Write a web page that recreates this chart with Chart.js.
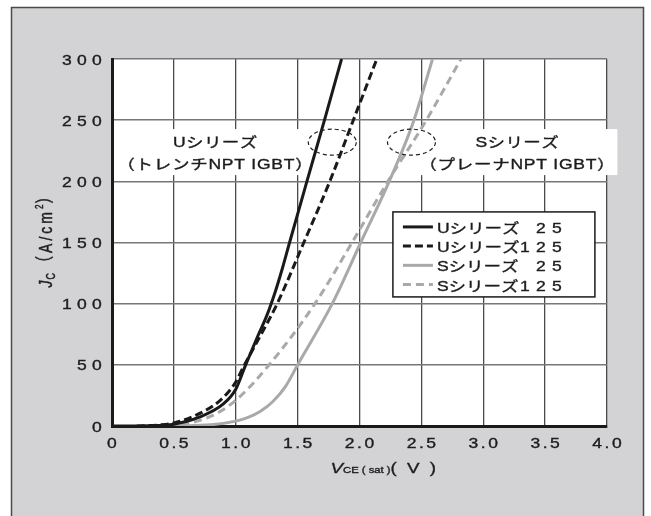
<!DOCTYPE html>
<html>
<head>
<meta charset="utf-8">
<script src="https://cdn.jsdelivr.net/npm/chart.js@4.4.1/dist/chart.umd.min.js"></script>
<style>
  html, body { margin: 0; padding: 0; background: #fff; }
  canvas { display: block; }
</style>
</head>
<body>
<canvas id="chart" width="651" height="516"></canvas>
<script>
// VCE(sat) [V] / Jc [A/cm2]
var vU25  = [0, 0.3, 0.5, 0.7, 0.9, 1.0, 1.08, 1.18, 1.25, 1.32, 1.38, 1.435, 1.575, 1.717, 1.855];
var jU25  = [0, 0.3, 1.5, 7, 18, 30, 50, 74, 90, 110, 130, 150, 200, 250, 300];
var vU125 = [0.2, 0.4, 0.5, 0.66, 0.875, 1.0, 1.06, 1.2, 1.335, 1.55, 1.76, 1.95, 2.14];
var jU125 = [0, 1, 2.5, 8, 21, 36, 48, 74, 100, 150, 200, 250, 300];
var vS25  = [0.5, 0.8, 1.0, 1.1, 1.2, 1.3, 1.4, 1.5, 1.78, 2.01, 2.24, 2.44, 2.59];
var jS25  = [0, 1, 4, 7, 12, 20, 32, 50, 100, 150, 200, 250, 300];
var vS125 = [0.35, 0.6, 0.8, 1.0, 1.27, 1.64, 1.94, 2.23, 2.54, 2.82];
var jS125 = [0, 2, 8, 21, 50, 100, 150, 200, 250, 300];

var seriesNames = ['Uシリーズ', 'Uシリーズ', 'Sシリーズ', 'Sシリーズ'];
var seriesTemps = ['25', '125', '25', '125'];

var xTickValues = [0, 0.5, 1.0, 1.5, 2.0, 2.5, 3.0, 3.5, 4.0];
var xTickLabels = ['0', '0.5', '1.0', '1.5', '2.0', '2.5', '3.0', '3.5', '4.0'];
var yTickValues = [0, 50, 100, 150, 200, 250, 300];
var yTickLabels = ['0', '50', '100', '150', '200', '250', '300'];

var noteU = ['Uシリーズ', '（トレンチNPT IGBT）'];
var noteS = ['Sシリーズ', '（プレーナNPT IGBT）'];

var LATIN = '"Liberation Sans", Arial, "Noto Sans CJK JP", sans-serif';
var TEXT = '#1c1c1c';
var SX = 1.25; // the scan is stretched sideways, so is its lettering

function pts(xs, ys) {
  return xs.map(function (x, i) { return { x: x, y: ys[i] }; });
}

function runsWidth(ctx, runs) {
  var w = 0;
  runs.forEach(function (r) {
    ctx.font = r.font;
    ctx.letterSpacing = (r.ls || 0) + 'px';
    w += ctx.measureText(r.t).width;
  });
  return w;
}

// draws a row of text pieces (sub/superscripts via dy), a bit heavy like the print
function drawRuns(ctx, runs, x, y, align, k) {
  ctx.save();
  ctx.translate(x, y);
  ctx.scale(k, 1);
  var w = runsWidth(ctx, runs);
  var cx = align === 'center' ? -w / 2 : (align === 'right' ? -w : 0);
  ctx.fillStyle = TEXT;
  ctx.strokeStyle = TEXT;
  ctx.lineWidth = 0.35;
  ctx.textAlign = 'left';
  ctx.textBaseline = 'alphabetic';
  runs.forEach(function (r) {
    ctx.font = r.font;
    ctx.letterSpacing = (r.ls || 0) + 'px';
    ctx.fillText(r.t, cx, r.dy || 0);
    ctx.strokeText(r.t, cx, r.dy || 0);
    cx += ctx.measureText(r.t).width;
  });
  ctx.restore();
  return w * k;
}

var panelPlugin = {
  id: 'panel',
  beforeDraw: function (chart) {
    var ctx = chart.ctx, a = chart.chartArea;
    ctx.save();
    ctx.fillStyle = '#fff';
    ctx.fillRect(0, 0, chart.width, chart.height);
    ctx.fillStyle = '#d3d3d5';
    ctx.fillRect(11.5, 7.5, 632, 520);
    ctx.strokeStyle = '#4a4a4a';
    ctx.lineWidth = 1.5;
    ctx.strokeRect(11.5, 7.5, 632, 520);
    ctx.fillStyle = '#fff';
    ctx.fillRect(a.left, a.top, a.right - a.left, a.bottom - a.top);
    ctx.restore();
  },
  beforeDatasetsDraw: function (chart) {
    var ctx = chart.ctx, xs = chart.scales.x, ys = chart.scales.y;
    [[noteU, 0.835], [noteS, 3.275]].forEach(function (n) {
      var cx = xs.getPixelForValue(n[1]);
      var b1 = ys.getPixelForValue(228), b2 = ys.getPixelForValue(210);
      var r1 = [{ t: n[0][0], font: '14px ' + LATIN, ls: 0.3 }];
      var r2 = [{ t: n[0][1], font: '14px ' + LATIN, ls: 0.6 }];
      ctx.save();
      var w = runsWidth(ctx, r2) * SX;
      ctx.fillStyle = '#fff';
      ctx.fillRect(cx - w / 2 - 2, b1 - 18, w + 4, b2 - b1 + 24);
      ctx.restore();
      drawRuns(ctx, r1, cx, b1, 'center', SX);
      drawRuns(ctx, r2, cx, b2, 'center', SX);
    });
  },
  afterDatasetsDraw: function (chart) {
    var ctx = chart.ctx, xs = chart.scales.x, ys = chart.scales.y;
    ctx.save();
    ctx.strokeStyle = '#222';
    ctx.lineWidth = 1.2;
    ctx.setLineDash([4, 3]);
    [1.78, 2.42].forEach(function (v) {
      ctx.beginPath();
      ctx.ellipse(xs.getPixelForValue(v), ys.getPixelForValue(232), 24, 13, 0, 0, Math.PI * 2);
      ctx.stroke();
    });
    ctx.restore();
  },
  afterDraw: function (chart) {
    var ctx = chart.ctx, xs = chart.scales.x, ys = chart.scales.y, a = chart.chartArea;

    // tick labels, placed by the scales, lettered wide like the scan
    xs.ticks.forEach(function (t, i) {
      drawRuns(ctx, [{ t: xTickLabels[i], font: '14px ' + LATIN, ls: 2 }],
        xs.getPixelForValue(t.value) + 1.2, a.bottom + 22, 'center', SX);
    });
    ys.ticks.forEach(function (t, i) {
      drawRuns(ctx, [{ t: yTickLabels[i], font: '14px ' + LATIN, ls: 4.2 }],
        a.left - 5, ys.getPixelForValue(t.value) + 5.5, 'right', SX);
    });

    // legend box
    var lx = xs.getPixelForValue(2.27), ly = ys.getPixelForValue(175);
    ctx.save();
    ctx.fillStyle = '#fff';
    ctx.fillRect(lx, ly, 202, 85);
    ctx.strokeStyle = '#1a1a1a';
    ctx.lineWidth = 1.5;
    ctx.strokeRect(lx, ly, 202, 85);
    chart.data.datasets.forEach(function (ds, i) {
      var ry = ly + 15 + i * 19.2;
      ctx.strokeStyle = ds.borderColor;
      ctx.lineWidth = 3;
      ctx.setLineDash(ds.borderDash || []);
      ctx.beginPath();
      ctx.moveTo(lx + 10, ry);
      ctx.lineTo(lx + 40, ry);
      ctx.stroke();
      ctx.setLineDash([]);
      drawRuns(ctx, [{ t: seriesNames[i], font: '14px ' + LATIN, ls: 0 }], lx + 44, ry + 6, 'left', SX);
      drawRuns(ctx, [{ t: seriesTemps[i], font: '14px ' + LATIN, ls: 5 }], lx + 175, ry + 6, 'right', SX);
    });
    ctx.restore();

    // x title: V_CE(sat)(V)
    drawRuns(ctx, [
      { t: 'V', font: 'italic 15px ' + LATIN },
      { t: 'CE ( sat )', font: '9px ' + LATIN },
      { t: '( V )', font: '15px ' + LATIN, ls: 2 }
    ], (a.left + a.right) / 2 + 25, 473, 'center', SX);

    // y title: J_C (A/cm^2)
    ctx.save();
    ctx.translate(52, (a.top + a.bottom) / 2 - 4);
    ctx.rotate(-Math.PI / 2);
    ctx.scale(1, 1.35);
    drawRuns(ctx, [
      { t: 'J', font: 'italic 14px ' + LATIN, ls: 1 },
      { t: 'C', font: '9px ' + LATIN, ls: 3, dy: 2 },
      { t: '（A/cm', font: '14px ' + LATIN, ls: 3 },
      { t: '2', font: '8px ' + LATIN, ls: 1, dy: -7 },
      { t: '）', font: '14px ' + LATIN }
    ], 0, 0, 'center', 1);
    ctx.restore();
  }
};

function line(label, xs, ys, color, dash) {
  return {
    label: label,
    data: pts(xs, ys),
    borderColor: color,
    borderWidth: 3,
    borderDash: dash,
    pointRadius: 0,
    fill: false,
    cubicInterpolationMode: 'monotone'
  };
}

new Chart(document.getElementById('chart'), {
  type: 'line',
  data: {
    datasets: [
      line(seriesNames[0] + ' ' + seriesTemps[0], vU25, jU25, '#1a1a1a', []),
      line(seriesNames[1] + ' ' + seriesTemps[1], vU125, jU125, '#1a1a1a', [8, 4]),
      line(seriesNames[2] + ' ' + seriesTemps[2], vS25, jS25, '#a9a9a9', []),
      line(seriesNames[3] + ' ' + seriesTemps[3], vS125, jS125, '#a9a9a9', [8, 5])
    ]
  },
  options: {
    responsive: false,
    devicePixelRatio: 1,
    animation: false,
    layout: { padding: { left: 52, top: 59, right: 44, bottom: 40 } },
    plugins: { legend: { display: false }, tooltip: { enabled: false } },
    scales: {
      x: {
        type: 'linear',
        min: 0,
        max: 4,
        afterBuildTicks: function (s) { s.ticks = xTickValues.map(function (v) { return { value: v }; }); },
        afterFit: function (s) { s.height = 50; },
        ticks: { display: false },
        grid: { color: '#4a4a4a', lineWidth: 1.3, drawTicks: false },
        border: { color: '#1a1a1a', width: 3 }
      },
      y: {
        type: 'linear',
        min: 0,
        max: 300,
        afterBuildTicks: function (s) { s.ticks = yTickValues.map(function (v) { return { value: v }; }); },
        afterFit: function (s) { s.width = 60; },
        ticks: { display: false },
        grid: { color: '#777', lineWidth: 1.5, drawTicks: false },
        border: { color: '#1a1a1a', width: 3 }
      }
    }
  },
  plugins: [panelPlugin]
});
</script>
</body>
</html>
